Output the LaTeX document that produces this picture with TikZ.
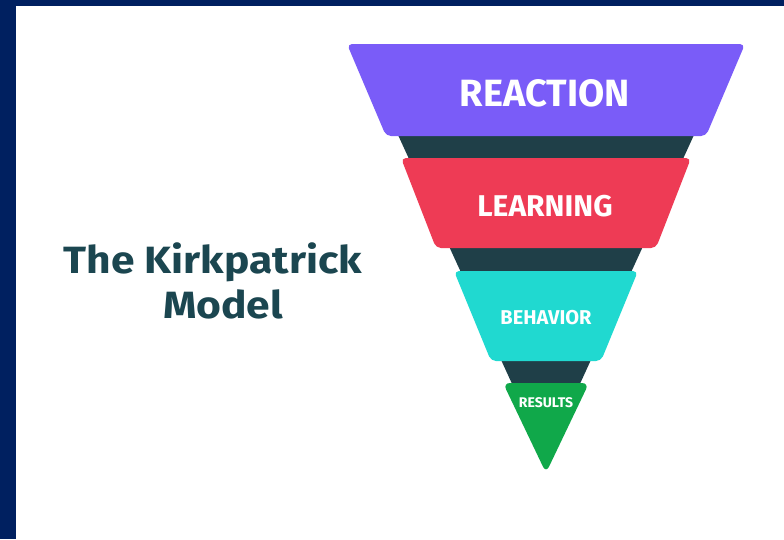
\documentclass[tikz,border=0pt]{standalone}
\usepackage{fontspec}
\setmainfont{Fira Sans}
\definecolor{framenavy}{HTML}{002060}
\definecolor{funneldark}{HTML}{1F3F48}
\definecolor{reactioncol}{HTML}{7A5CF8}
\definecolor{learningcol}{HTML}{EE3B55}
\definecolor{behaviorcol}{HTML}{20D9D0}
\definecolor{resultscol}{HTML}{10A84A}
\definecolor{titlecol}{HTML}{1B4650}
\tikzset{
  level/.style={rounded corners=5pt},
  leveltext/.style={text=white, font=\bfseries, inner sep=0pt, anchor=base},
  titletext/.style={text=titlecol, font=\fontsize{38}{40}\bfseries, inner sep=0pt,
    anchor=base, xscale=1.12, transform shape}
}
\begin{document}
\begin{tikzpicture}[x=1pt,y=-1pt]
  \useasboundingbox (0,0) rectangle (784,539);
  % page and frame
  \fill[white] (0,0) rectangle (784,539);
  \fill[framenavy] (0,0) rectangle (16,539);
  \fill[framenavy] (0,0) rectangle (784,6);
  % dark funnel body behind the levels
  \fill[funneldark] (382,100) -- (710,100) -- (546,458) -- cycle;
  % levels
  \fill[reactioncol, level] (347,44) -- (745,44) -- (706,136) -- (386,136) -- cycle;
  \fill[learningcol, level] (401,158) -- (691,158) -- (656,248) -- (436,248) -- cycle;
  \fill[behaviorcol, level] (454,271) -- (638,271) -- (601,361) -- (491,361) -- cycle;
  \fill[resultscol, rounded corners=7pt] (503,383) -- (589,383) -- (546,473) -- cycle;
  % labels
  \node[leveltext, font=\fontsize{38}{42}\bfseries] (reaction) at (545,106) {REACTION};
  \node[leveltext, font=\fontsize{30}{34}\bfseries] (learning) at (545,216) {LEARNING};
  \node[leveltext, font=\fontsize{20}{24}\bfseries] (behavior) at (546,324) {BEHAVIOR};
  \node[leveltext, font=\fontsize{14}{16}\bfseries] (results) at (546,407) {RESULTS};
  % title
  \node[titletext] (title1) at (213,273) {The Kirkpatrick};
  \node[titletext] (title2) at (223,318) {Model};
\end{tikzpicture}
\end{document}
